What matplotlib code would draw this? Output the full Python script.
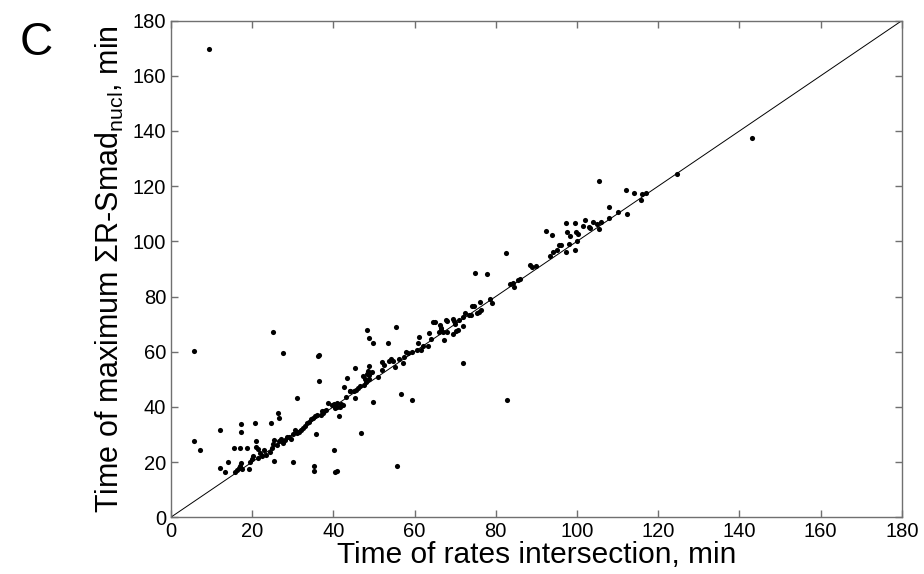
import matplotlib
matplotlib.use("Agg")
import matplotlib.pyplot as plt

plt.rcParams['font.family'] = ['Liberation Sans', 'DejaVu Sans']
plt.rcParams['mathtext.fontset'] = 'custom'
plt.rcParams['mathtext.rm'] = 'Liberation Sans'
plt.rcParams['mathtext.it'] = 'Liberation Sans'

# time of rates intersection (min)
x_rates = [
    9.3, 143.2, 124.7, 105.3,
    112.0, 114.0, 116.0, 115.8, 112.4, 107.8, 107.8, 106.0, 105.0, 103.9, 103.3, 105.3,
    99.5, 99.8, 100.3, 100.0, 99.5,
    92.4, 93.9, 97.4, 97.6, 98.2, 101.9, 101.4, 102.9, 95.6, 98.1, 97.4, 94.0, 93.3,
    82.6, 88.5, 89.0, 74.9, 77.9, 84.2, 84.5, 85.4, 79.0,
    72.5, 73.3, 73.9, 74.1, 74.7, 75.3, 75.8, 76.3, 76.0, 69.5, 67.7,
    64.6, 65.0, 66.3, 66.6, 66.4, 67.1, 67.9, 67.3, 67.9, 69.7, 69.9, 69.4, 70.1, 70.8, 71.9,
    63.5, 63.2, 61.0, 60.9, 61.6, 59.3, 58.4, 57.1, 56.1, 55.3, 54.2, 54.6, 52.1, 51.9, 50.9,
    48.4, 48.9, 49.8, 53.4, 55.5, 45.4, 48.7, 43.4, 42.6, 45.4, 44.0, 45.0, 49.7, 56.6, 59.4,
    71.9, 82.8, 55.7, 46.7, 40.2, 40.4, 40.9, 41.3, 37.2, 37.4,
    47.3, 47.8, 48.4, 48.9, 48.9, 48.6, 47.5, 48.0, 49.4,
    39.7, 40.1, 40.5, 41.0, 40.8, 41.6,
    36.5, 36.1, 36.4, 38.8, 31.0, 35.8, 35.2, 35.3, 30.0, 25.4, 19.3, 12.2, 13.3, 14.0,
    5.7, 25.2, 27.7, 5.7, 7.1, 12.2, 17.3, 17.3, 20.7, 24.6, 26.3, 26.7, 20.9,
    15.6, 17.0, 18.8, 21.0, 21.5,
    15.8, 16.3, 16.7, 17.0, 17.3, 17.6, 19.5, 20.0, 20.3, 21.5, 22.0, 22.5, 23.0, 23.5,
    24.5, 25.0, 25.2, 25.5, 26.0, 26.5, 27.0, 27.5, 28.0, 28.5, 29.0, 29.5, 30.0, 30.5,
    31.0, 31.5, 32.0, 32.5, 33.0, 33.5, 34.0, 34.5, 35.0, 35.5, 36.0, 37.0, 37.6, 38.2,
    41.8, 42.4, 43.0, 44.2, 45.6, 46.0, 46.5, 52.5, 53.8, 57.5, 58.0, 60.5, 62.0, 64.0,
    66.0, 71.0, 72.0, 78.5, 83.5, 86.0, 90.0, 95.0, 96.0, 110.0, 117.0,
]

# time of maximum sum R-Smad nucl (min)
y_max_smad = [
    169.9, 137.5, 124.4, 121.8,
    118.6, 117.4, 117.2, 114.9, 109.9, 112.6, 108.4, 106.9, 106.3, 107.1, 104.7, 104.4,
    106.5, 103.5, 102.5, 100.0, 97.0,
    103.6, 102.3, 106.6, 103.3, 102.0, 107.8, 105.5, 105.3, 98.7, 99.1, 96.1, 96.0, 94.7,
    95.6, 91.3, 90.7, 88.6, 88.3, 85.0, 83.5, 86.0, 77.6,
    74.0, 73.2, 73.2, 76.4, 76.4, 74.0, 74.5, 75.0, 78.0, 71.8, 71.6,
    70.7, 70.7, 69.5, 68.5, 68.0, 67.2, 67.2, 64.4, 71.1, 71.0, 70.0, 66.3, 67.4, 68.0, 69.2,
    66.9, 62.2, 65.2, 63.2, 60.7, 59.7, 59.4, 55.9, 57.4, 54.4, 57.4, 56.5, 56.2, 53.2, 50.8,
    68.0, 64.9, 63.2, 63.2, 68.9, 54.2, 54.9, 50.4, 47.2, 43.2, 45.9, 45.9, 41.7, 44.7, 42.4,
    55.9, 42.4, 18.7, 30.5, 24.4, 16.3, 16.7, 36.5, 38.4, 37.7,
    51.0, 50.0, 52.0, 51.5, 50.0, 53.0, 48.0, 49.0, 52.5,
    40.5, 41.0, 39.7, 41.3, 40.0, 39.9,
    49.2, 58.5, 58.7, 41.3, 43.2, 30.2, 16.6, 18.4, 20.0, 20.3, 17.3, 18.0, 16.5, 20.0,
    60.4, 67.0, 59.6, 27.7, 24.3, 31.6, 33.9, 30.7, 34.2, 34.0, 37.8, 36.0, 27.7,
    24.9, 24.9, 24.9, 25.5, 24.6,
    16.2, 17.2, 18.0, 18.6, 19.8, 17.5, 20.0, 21.2, 22.0, 21.5, 23.2, 22.0, 24.2, 22.5,
    23.5, 25.0, 26.5, 28.0, 26.0, 27.5, 28.5, 27.0, 28.0, 29.0, 29.0, 28.5, 30.0, 31.5,
    30.5, 31.0, 31.5, 32.5, 33.0, 34.0, 34.5, 35.5, 36.0, 36.5, 37.0, 37.0, 38.5, 39.0,
    41.0, 40.5, 43.5, 45.8, 46.0, 47.0, 47.5, 55.0, 56.5, 58.0, 60.0, 60.5, 62.0, 64.5,
    67.0, 71.5, 72.5, 79.0, 84.5, 86.5, 91.0, 97.0, 98.5, 110.5, 117.5,
]

ticks = [0, 20, 40, 60, 80, 100, 120, 140, 160, 180]

fig = plt.figure(figsize=(9.24, 5.74), dpi=100)
ax = fig.add_axes([0.185, 0.099, 0.791, 0.865])

ax.plot([0, 180], [0, 180], color='black', linewidth=0.7)
ax.plot(x_rates, y_max_smad, 'o', color='black', markersize=3.7, markeredgewidth=0)

ax.set_xlim(0, 180)
ax.set_ylim(0, 180)
ax.set_xticks(ticks)
ax.set_yticks(ticks)

for spine in ax.spines.values():
    spine.set_color('#707070')
    spine.set_linewidth(1.0)
ax.tick_params(direction='in', length=5, width=1, colors='#707070',
               labelcolor='black', labelsize=14.5, top=True, right=True, pad=3.5)

ax.set_xlabel('Time of rates intersection, min', fontsize=21.5, labelpad=0)
ax.set_ylabel(r'Time of maximum $\Sigma$R-Smad$_{\mathrm{nucl}}$, min', fontsize=22)
ax.yaxis.set_label_coords(-0.062, 0.5)

fig.text(0.021, 0.963, 'C', fontsize=33, va='top')

fig.savefig('out.png', dpi=100)
